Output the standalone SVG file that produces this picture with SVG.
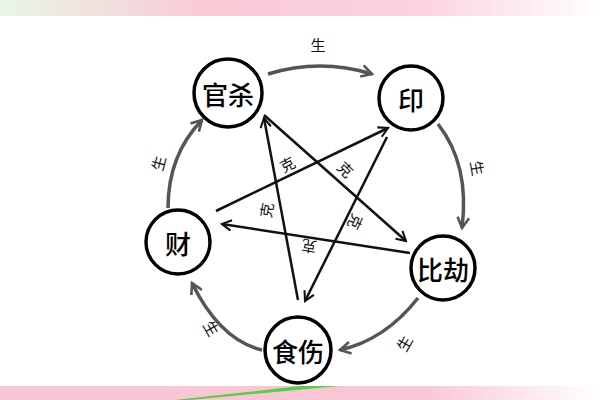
<svg xmlns="http://www.w3.org/2000/svg" width="600" height="400" viewBox="0 0 600 400">
<defs>
<linearGradient id="pk" x1="0" x2="1"><stop offset="0" stop-color="#e8f6e6"/><stop offset="0.35" stop-color="#f9c9d6"/><stop offset="0.7" stop-color="#fbd3df"/><stop offset="1" stop-color="#ffffff"/></linearGradient>
<linearGradient id="pk2" x1="0" x2="1"><stop offset="0" stop-color="#f8c5d4"/><stop offset="0.7" stop-color="#f9c6d5"/><stop offset="1" stop-color="#ffffff"/></linearGradient>
<marker id="a" viewBox="0 0 12 12" refX="10" refY="6" markerWidth="5" markerHeight="5" orient="auto" markerUnits="strokeWidth"><path d="M1,1 L10,6 L1,11" fill="none" stroke="#111" stroke-width="2"/></marker>
<marker id="g" viewBox="0 0 12 12" refX="10" refY="6" markerWidth="4" markerHeight="4" orient="auto" markerUnits="strokeWidth"><path d="M1,1 L10,6 L1,11" fill="none" stroke="#555" stroke-width="2.2"/></marker>
</defs>
<style>
.n{fill:#fff;stroke:#000;stroke-width:3.5}
.t{font-family:"Noto Sans CJK SC",sans-serif;font-size:26px;font-weight:500;text-anchor:middle;dominant-baseline:central;fill:#000}
.s{font-family:"Noto Sans CJK SC",sans-serif;font-size:15px;text-anchor:middle;dominant-baseline:central;fill:#111}
.k{stroke:#111;stroke-width:2.5;fill:none;marker-end:url(#a)}
.o{stroke:#555;stroke-width:3.5;fill:none;marker-end:url(#g)}
</style>
<rect width="600" height="400" fill="#fff"/>
<rect x="0" y="0" width="600" height="16" fill="url(#pk)"/>
<rect x="0" y="386" width="600" height="14" fill="url(#pk2)"/>
<path d="M190,400 L340,386 L300,386 L175,400Z" fill="#5ccc4c"/>
<g id="connectors">
<path class="o" d="M268,74 Q320,58 372,74"/>
<path class="o" d="M438,124 Q470,165 462,228"/>
<path class="o" d="M418,298 Q385,340 340,350"/>
<path class="o" d="M262,350 Q220,340 192,283"/>
<path class="o" d="M168,208 Q168,155 202,120"/>
<path class="k" d="M264,115 L406,241"/>
<path class="k" d="M410,253 L222,224"/>
<path class="k" d="M216,211 L388,128"/>
<path class="k" d="M387,137 L305,301"/>
<path class="k" d="M298,300 L264,118"/>
<text class="s" x="318" y="44">生</text>
<text class="s" x="478" y="168" transform="rotate(80 478 168)">生</text>
<text class="s" x="404" y="343" transform="rotate(-60 404 343)">生</text>
<text class="s" x="212" y="328" transform="rotate(60 212 328)">生</text>
<text class="s" x="158" y="163" transform="rotate(-75 158 163)">生</text>
<text class="s" x="287" y="164" transform="rotate(-28 287 164)">克</text>
<text class="s" x="346" y="169" transform="rotate(45 346 169)">克</text>
<text class="s" x="266" y="210" transform="rotate(-80 266 210)">克</text>
<text class="s" x="356" y="222" transform="rotate(115 356 222)">克</text>
<text class="s" x="309" y="247" transform="rotate(190 309 247)">克</text>
</g>
<g id="guansha"><circle class="n" cx="228" cy="93" r="34"/><text class="t" x="228" y="93">官杀</text></g>
<g id="yin"><circle class="n" cx="411" cy="98" r="32"/><text class="t" x="411" y="98">印</text></g>
<g id="bijie"><circle class="n" cx="443" cy="268" r="32"/><text class="t" x="443" y="268">比劫</text></g>
<g id="shishang"><circle class="n" cx="298" cy="350" r="33"/><text class="t" x="298" y="350">食伤</text></g>
<g id="cai"><circle class="n" cx="178" cy="242" r="32"/><text class="t" x="178" y="242">财</text></g>
</svg>
